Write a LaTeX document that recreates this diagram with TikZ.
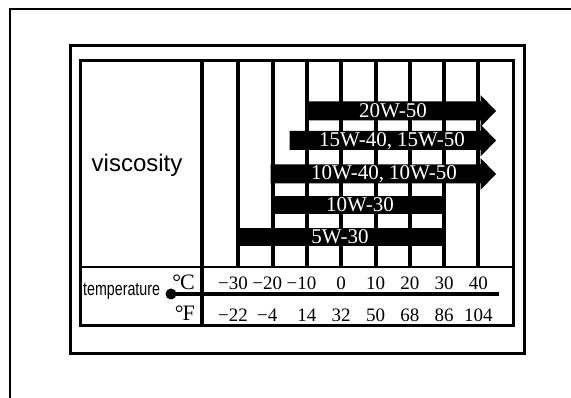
\documentclass[tikz,border=0pt]{standalone}
\usepackage{fontspec}
\setmainfont{Liberation Serif}
\newfontfamily\arial{Liberation Sans}
\usepackage{graphicx}
\begin{document}
\begin{tikzpicture}[x=1pt,y=-1pt,
    frame/.style={line width=3pt},
    gridline/.style={line width=4pt},
    oillabel/.style={text=white,font=\fontsize{21}{21}\selectfont,inner sep=0pt},
    templabel/.style={anchor=base,font=\fontsize{19}{19}\selectfont,inner sep=0pt},
    unitlabel/.style={anchor=base east,font=\fontsize{22}{22}\selectfont,inner sep=0pt}]
    \useasboundingbox (0,0) rectangle (571,398);
    \def\dx{34.3}
    %% frames
    \draw[line width=2pt] (571,9) -- (10,9) -- (10,398);
    \draw[frame] (70,46) rectangle (524,354);
    \draw[frame] (80,61) rectangle (513,326);
    \draw[line width=2.5pt] (80,267) -- (513,267);
    \draw[gridline] (202,61) -- (202,326);
    %% grid
    \foreach \i in {1,...,8} \draw[gridline] (204+\i*\dx,61) -- (204+\i*\dx,267);
    %% bars with arrow heads
    \foreach \xa/\yc in {305/111,289.5/140.5,270.5/174}
        \fill (\xa,\yc-9.5) rectangle (480.5,\yc+9.5) (480.5,\yc-16) -- (496,\yc) -- (480.5,\yc+16) -- cycle;
    %% plain bars
    \foreach \xa/\yc in {270.5/205,236.5/237}
        \fill (\xa,\yc-9.25) rectangle (446,\yc+9.25);
    %% grades
    \node[oillabel] (g2050) at (393,111) {20W-50};
    \node[oillabel] (g1540) at (392,141) {15W-40, 15W-50};
    \node[oillabel] (g1040) at (384,174) {10W-40, 10W-50};
    \node[oillabel] (g1030) at (360,205) {10W-30};
    \node[oillabel] (g530) at (340,237) {5W-30};
    %% labels
    \node[anchor=base west,inner sep=0pt,font=\arial\fontsize{24}{24}\selectfont] (visc) at (91.5,171.5) {viscosity};
    \node[anchor=base west,inner sep=0pt,font=\arial\fontsize{19}{19}\selectfont] (temp) at (83,295.5) {\scalebox{0.75}[1]{temperature}};
    \node[unitlabel] (degc) at (195,290) {°\kern-1pt C};
    \node[unitlabel] (degf) at (195,321) {°\kern-1pt F};
    %% temperature scale
    \node[circle,fill,inner sep=0pt,minimum size=11pt] (dot) at (171,294) {};
    \coordinate (lineend) at (499,294);
    \draw[line width=3.5pt] (dot.center) -- (lineend);
    \foreach \c/\f [count=\i] in {\llap{−}30/\llap{−}22,\llap{−}20/\llap{−}4,\llap{−}10/14,0/32,10/50,20/68,30/86,40/104} {
        \node[templabel] (c\i) at (204+\i*\dx,290) {\c};
        \node[templabel] (f\i) at (204+\i*\dx,321.5) {\f};
    }
\end{tikzpicture}
\end{document}
